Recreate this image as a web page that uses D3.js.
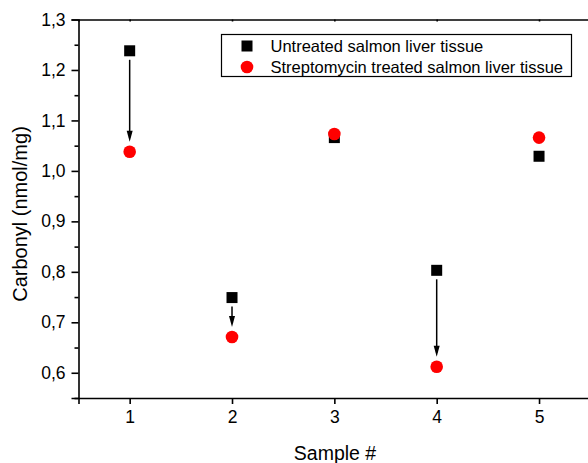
<!DOCTYPE html>
<html>
<head>
<style>
	body { margin: 0; background: #fff; }
	svg { display: block; }
	text { font-family: "Liberation Sans", Arial, sans-serif; fill: #000; }
</style>
<script src="https://d3js.org/d3.v7.min.js"></script>
</head>
<body>
<div id="chart"></div>
<script>
	// values
	const samples = [1, 2, 3, 4, 5];
	const untreated = [1.238, 0.749, 1.066, 0.803, 1.029];
	const treated = [1.038, 0.671, 1.073, 0.612, 1.066];
	const arrowSamples = [1, 2, 4];
	const yTicks = [0.6, 0.7, 0.8, 0.9, 1.0, 1.1, 1.2, 1.3];
	const seriesNames = ["Untreated salmon liver tissue", "Streptomycin treated salmon liver tissue"];

	const W = 588, H = 463;
	const margin = {top: 19.5, left: 78.5};
	const plotW = 511.7, plotH = 378.5;

	const svg = d3.select("#chart").append("svg")
		.attr("width", W)
		.attr("height", H);

	const x = d3.scaleLinear().domain([0.5, 5.5]).range([margin.left, margin.left + plotW]);
	const y = d3.scaleLinear().domain([0.55, 1.3]).range([margin.top + plotH, margin.top]);

	const fmt = function(d) { return d3.format(".1f")(d).replace(".", ","); };
	const tickFont = "Liberation Sans, Arial, sans-serif";

	// bottom axis
	const xAxis = svg.append("g")
		.attr("transform", "translate(0," + y(0.55) + ")")
		.call(d3.axisBottom(x).tickValues(samples).tickSize(6).tickPadding(7).tickFormat(d3.format("d")));
	xAxis.selectAll("text").attr("font-size", "17.5px").attr("font-family", tickFont);

	// left axis with minor ticks
	const minor = d3.range(0.55, 1.3, 0.1).map(function(d) { return +d.toFixed(2); });
	svg.append("g")
		.attr("transform", "translate(" + x(0.5) + ",0)")
		.call(d3.axisLeft(y).tickValues(minor).tickSize(4).tickFormat(""))
		.select(".domain").remove();
	const yAxis = svg.append("g")
		.attr("transform", "translate(" + x(0.5) + ",0)")
		.call(d3.axisLeft(y).tickValues(yTicks).tickSize(7).tickPadding(6).tickFormat(fmt));
	yAxis.selectAll("text").attr("font-size", "17.5px").attr("font-family", tickFont);

	// top frame line with small inward ticks
	svg.append("g")
		.attr("transform", "translate(0," + y(1.3) + ")")
		.call(d3.axisTop(x).tickValues(samples).tickSize(-2).tickFormat(""));

	svg.selectAll(".domain, .tick line").attr("stroke", "#000").attr("stroke-width", 1.6);

	// arrows from untreated to treated
	const arrowData = arrowSamples.map(function(s) {
		const i = samples.indexOf(s);
		return {s: s, from: untreated[i], to: treated[i]};
	});
	svg.selectAll(".arrow")
		.data(arrowData)
		.enter()
		.append("line")
		.attr("class", "arrow")
		.attr("x1", function(d) { return x(d.s); })
		.attr("x2", function(d) { return x(d.s); })
		.attr("y1", function(d) { return y(d.from) + 9; })
		.attr("y2", function(d) { return y(d.to) - 14; })
		.attr("stroke", "#000")
		.attr("stroke-width", 1.5);
	svg.selectAll(".head")
		.data(arrowData)
		.enter()
		.append("path")
		.attr("class", "head")
		.attr("d", function(d) {
			const cx = x(d.s), tip = y(d.to) - 10;
			return "M" + (cx - 3) + "," + (tip - 11) + "L" + cx + "," + tip + "L" + (cx + 3) + "," + (tip - 11) + "Z";
		})
		.attr("fill", "#000");

	// untreated squares
	svg.selectAll(".sq")
		.data(samples)
		.enter()
		.append("rect")
		.attr("class", "sq")
		.attr("x", function(d) { return x(d) - 5.5; })
		.attr("y", function(d, i) { return y(untreated[i]) - 5.5; })
		.attr("width", 11)
		.attr("height", 11)
		.attr("fill", "#000");

	// treated circles
	svg.selectAll(".dot")
		.data(samples)
		.enter()
		.append("circle")
		.attr("class", "dot")
		.attr("cx", function(d) { return x(d); })
		.attr("cy", function(d, i) { return y(treated[i]); })
		.attr("r", 6.3)
		.attr("fill", "#ff0000");

	// axis titles
	svg.append("text")
		.attr("x", 335)
		.attr("y", 460)
		.attr("text-anchor", "middle")
		.attr("font-size", "19.5px")
		.text("Sample #");
	svg.append("text")
		.attr("transform", "translate(27,214) rotate(-90)")
		.attr("text-anchor", "middle")
		.attr("font-size", "20px")
		.text("Carbonyl (nmol/mg)");

	// legend
	const legend = svg.append("g");
	legend.append("rect")
		.attr("x", 221.5)
		.attr("y", 34.5)
		.attr("width", 350)
		.attr("height", 42)
		.attr("fill", "#fff")
		.attr("stroke", "#000")
		.attr("stroke-width", 1.2);
	legend.append("rect")
		.attr("x", 241.5)
		.attr("y", 40.5)
		.attr("width", 11)
		.attr("height", 11)
		.attr("fill", "#000");
	legend.append("circle")
		.attr("cx", 247)
		.attr("cy", 67)
		.attr("r", 6.3)
		.attr("fill", "#ff0000");
	legend.selectAll(".ltxt")
		.data(seriesNames)
		.enter()
		.append("text")
		.attr("class", "ltxt")
		.attr("x", 270.5)
		.attr("y", function(d, i) { return 52 + i * 21; })
		.attr("font-size", "16.5px")
		.text(function(d) { return d; });
</script>
</body>
</html>
